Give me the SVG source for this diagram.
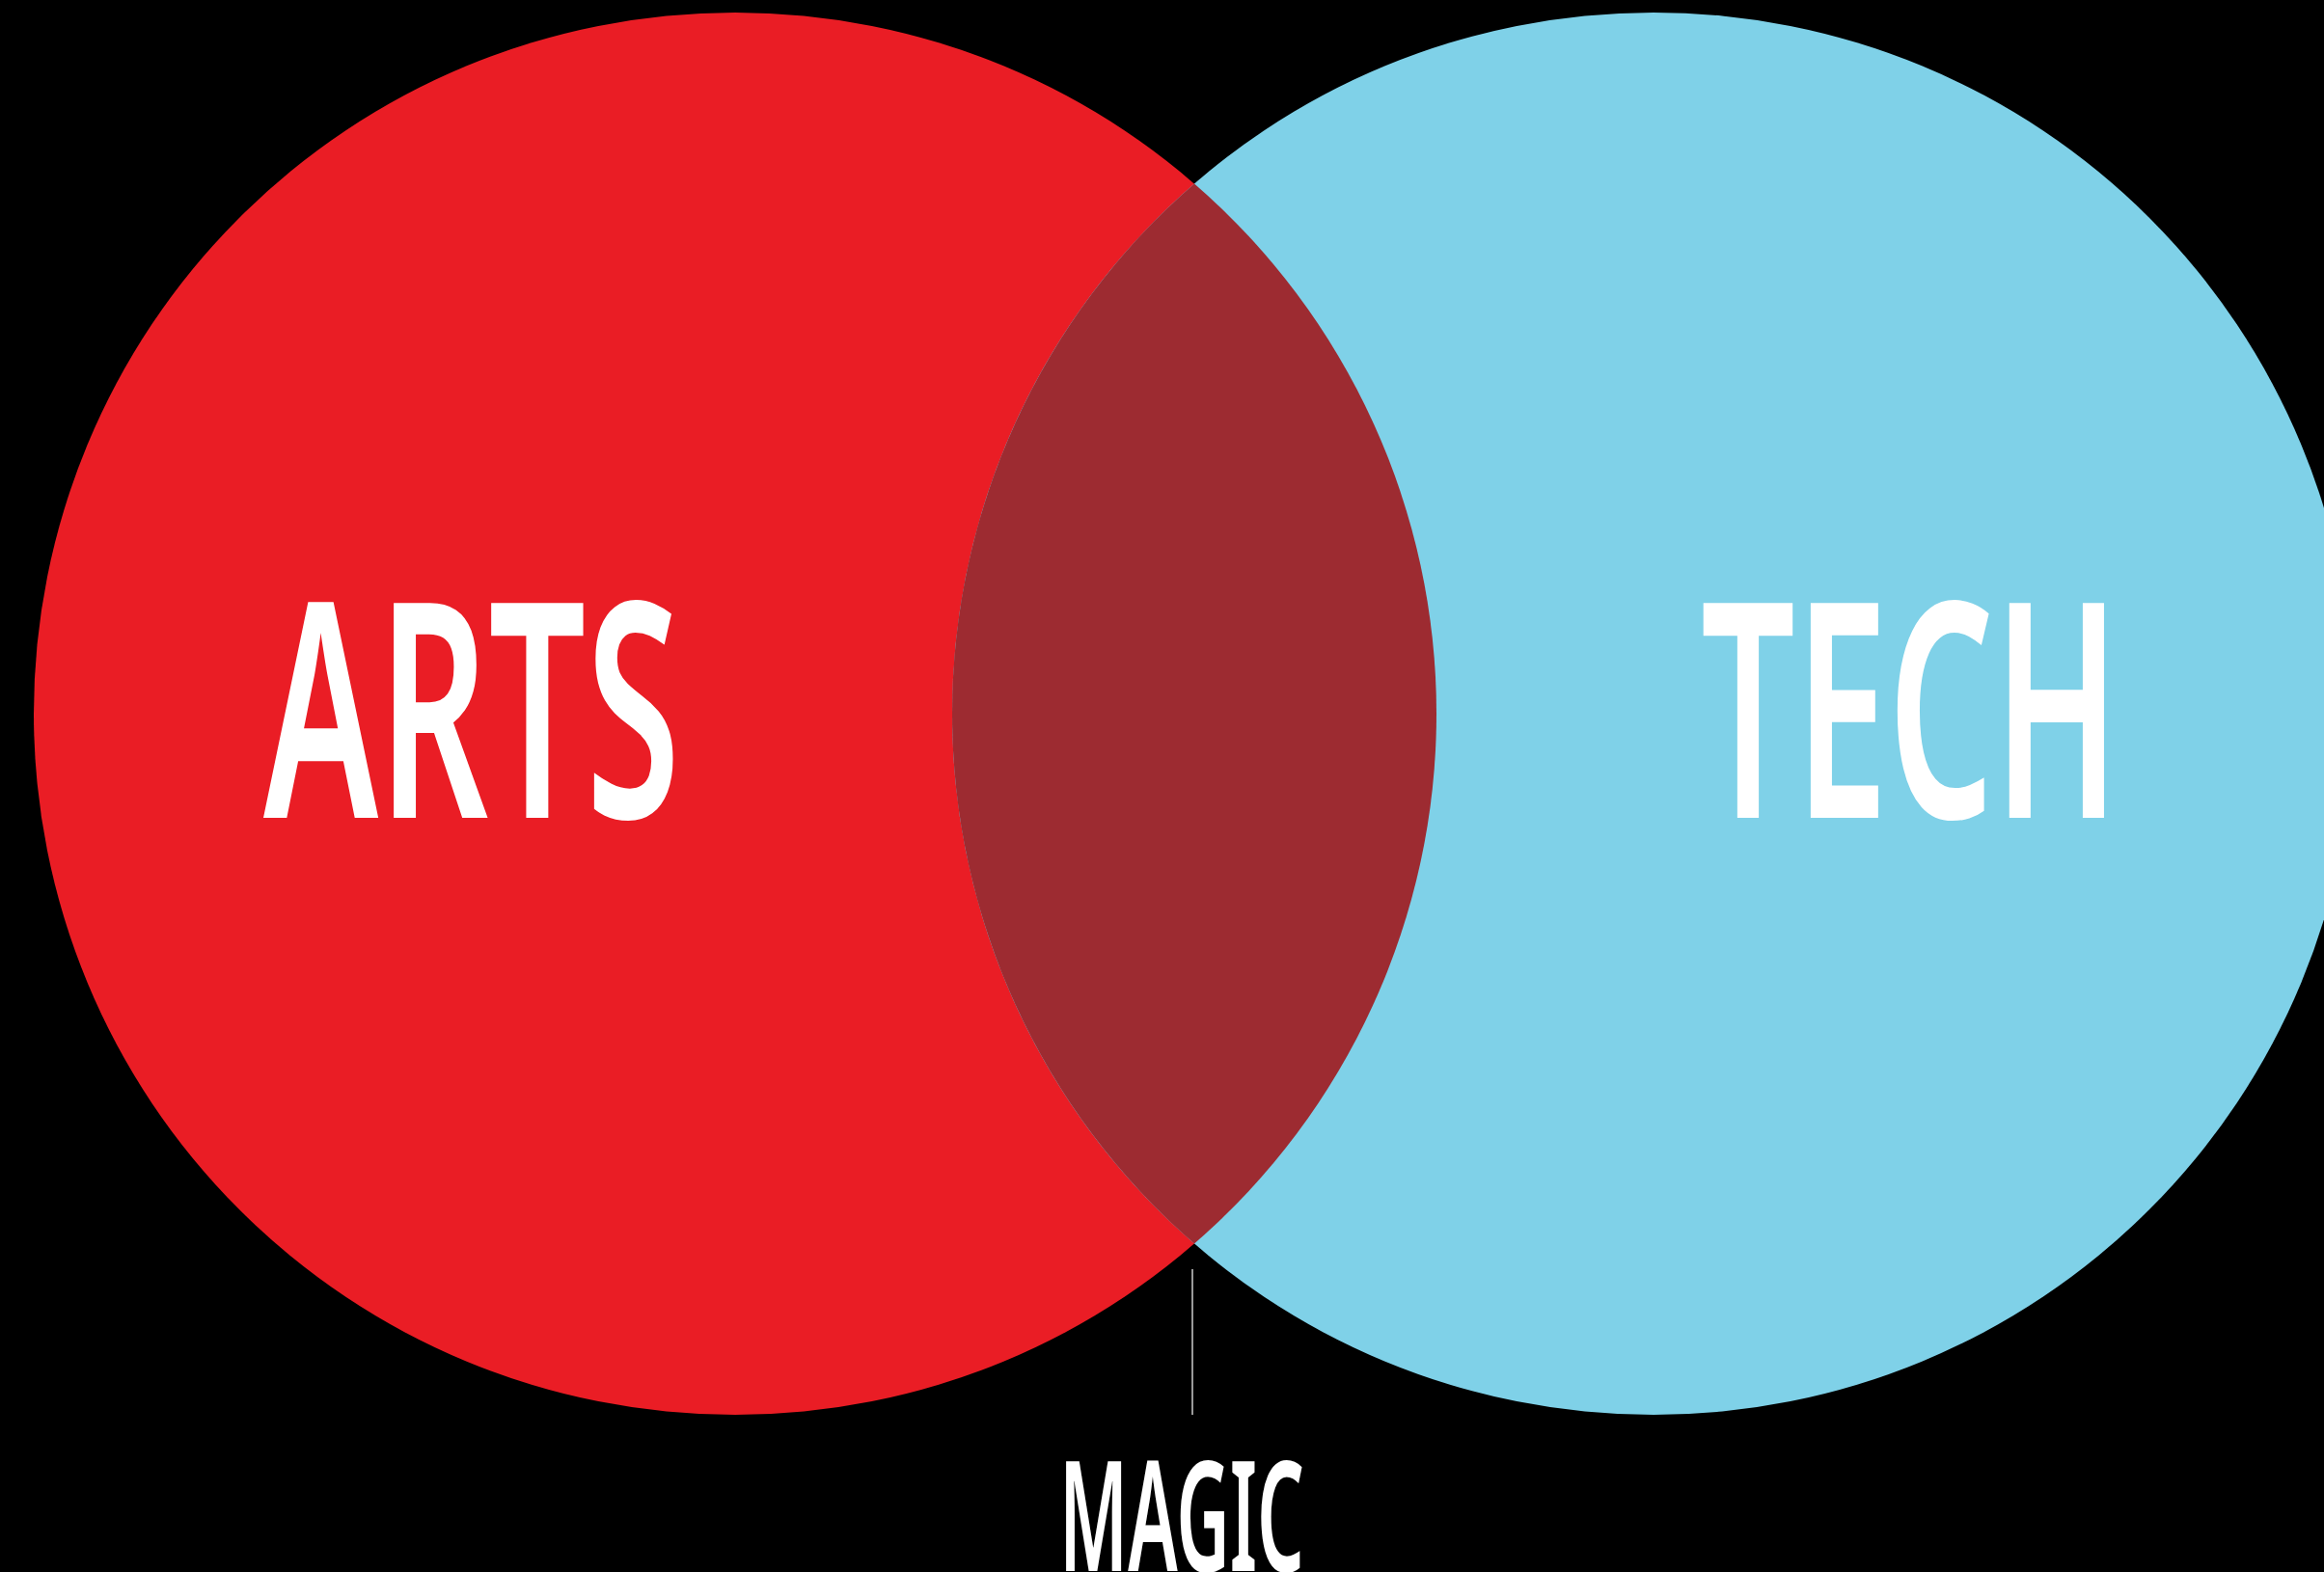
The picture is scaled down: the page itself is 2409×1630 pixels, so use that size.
<svg xmlns="http://www.w3.org/2000/svg" width="2409" height="1630" viewBox="0 0 2409 1630">
  <style>
    .lbl { fill: #ffffff; font-family: "Noto Sans", "Liberation Sans", sans-serif; font-stretch: extra-condensed; font-weight: 600; }
  </style>
  <rect x="0" y="0" width="2409" height="1630" fill="#000000"/>
  <g id="node-arts">
    <circle cx="762" cy="740" r="727" fill="#EA1D25"/>
  </g>
  <g id="node-tech">
    <circle cx="1714" cy="740" r="727" fill="#7FD1E8"/>
  </g>
  <g id="node-magic-overlap">
    <path d="M 1238 190.5 A 727 727 0 0 1 1238 1289.5 A 727 727 0 0 1 1238 190.5 Z" fill="#9D2B31"/>
  </g>
  <g id="connectors">
    <line x1="1236" y1="1316" x2="1236" y2="1467" stroke="#9a9a9a" stroke-width="2"/>
  </g>
  <g id="labels">
    <text class="lbl" x="273" y="848" font-size="312" textLength="432" lengthAdjust="spacingAndGlyphs">ARTS</text>
    <text class="lbl" x="1763" y="848" font-size="312" textLength="434" lengthAdjust="spacingAndGlyphs">TECH</text>
    <text class="lbl" x="1098" y="1629" font-size="160" textLength="254" lengthAdjust="spacingAndGlyphs">MAGIC</text>
  </g>
</svg>
